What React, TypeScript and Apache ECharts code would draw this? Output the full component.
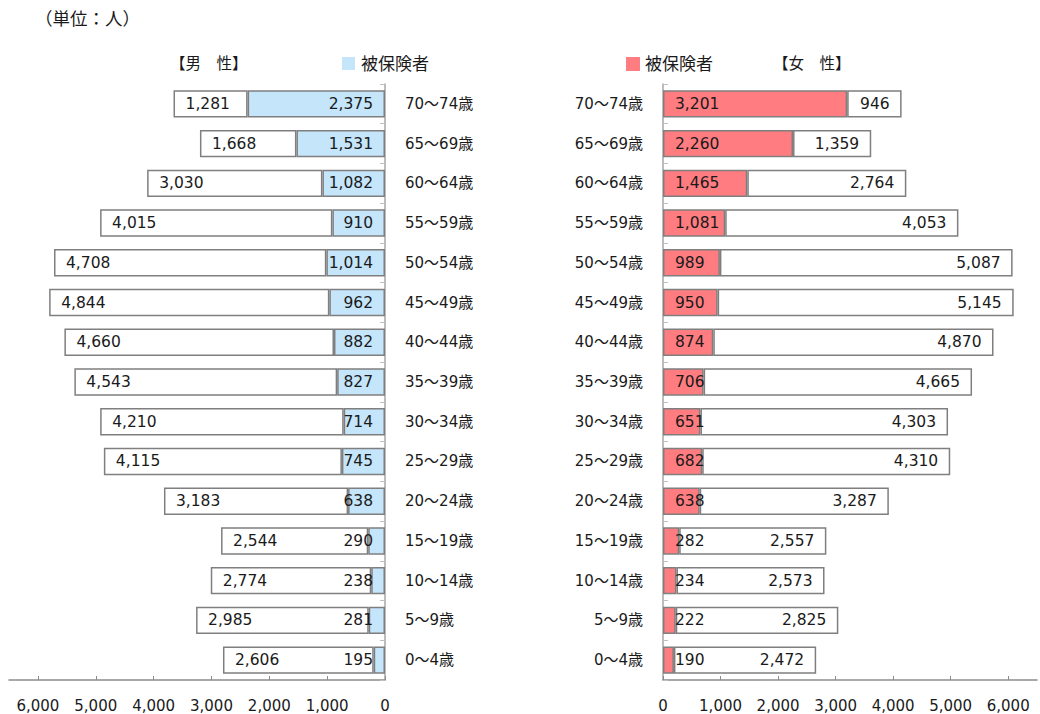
import React, { useEffect, useRef } from "react";
import * as echarts from "echarts";

const categories = ["0～4歳", "5～9歳", "10～14歳", "15～19歳", "20～24歳", "25～29歳", "30～34歳", "35～39歳", "40～44歳", "45～49歳", "50～54歳", "55～59歳", "60～64歳", "65～69歳", "70～74歳"];
const maleInsured = [195, 281, 238, 290, 638, 745, 714, 827, 882, 962, 1014, 910, 1082, 1531, 2375];
const maleOther = [2606, 2985, 2774, 2544, 3183, 4115, 4210, 4543, 4660, 4844, 4708, 4015, 3030, 1668, 1281];
const femaleInsured = [190, 222, 234, 282, 638, 682, 651, 706, 874, 950, 989, 1081, 1465, 2260, 3201];
const femaleOther = [2472, 2825, 2573, 2557, 3287, 4310, 4303, 4665, 4870, 5145, 5087, 4053, 2764, 1359, 946];
const tickValues = [0, 1000, 2000, 3000, 4000, 5000, 6000];

const FONT = "'DejaVu Sans', 'Noto Sans CJK JP', sans-serif";
const TEXT = "#1a1a1a";
const BORDER = "#7f7f7f";

const fmt = (v: number) => v.toLocaleString("en-US");

export default function App() {
  const ref = useRef<HTMLDivElement>(null);
  useEffect(() => {
    if (!ref.current) return;
    const chart = echarts.init(ref.current, null, { renderer: "svg" });
    const valueAxis = (gridIndex: number, inverse: boolean) => ({
      type: "value",
      gridIndex,
      inverse,
      min: 0,
      max: 6500,
      interval: 1000,
      splitLine: { show: false },
      axisLine: { show: true, lineStyle: { color: "#8c8c8c", width: 1.5 } },
      axisTick: { show: true, inside: true, length: 4, lineStyle: { color: "#8c8c8c" }, customValues: tickValues },
      axisLabel: {
        customValues: tickValues,
        formatter: (v: number) => fmt(v),
        color: TEXT,
        fontSize: 15,
        fontFamily: FONT,
        margin: 18,
      },
    });
    const catAxis = (gridIndex: number, position: string) => ({
      type: "category",
      gridIndex,
      position,
      data: categories,
      axisLine: { show: true, lineStyle: { color: "#a6a6a6", width: 1.5 } },
      axisTick: { show: true, inside: true, length: 5, lineStyle: { color: "#bfbfbf" } },
      axisLabel: { color: TEXT, fontSize: 15, fontFamily: FONT, margin: 20 },
    });
    const label = (position: string) => ({
      show: true,
      position,
      distance: 12,
      color: TEXT,
      fontSize: 15.5,
      fontFamily: FONT,
      formatter: (p: any) => fmt(p.value),
    });
    const bar = (name: string, data: number[], idx: number, stack: string, color: string, pos: string) => ({
      type: "bar",
      name,
      data,
      xAxisIndex: idx,
      yAxisIndex: idx,
      stack,
      barCategoryGap: "31%",
      itemStyle: { color, borderColor: BORDER, borderWidth: 1.5 },
      label: label(pos),
      emphasis: { disabled: true },
    });
    chart.setOption({
      animation: false,
      textStyle: { fontFamily: FONT },
      grid: [
        { left: 9, right: 655, top: 84, bottom: 34 },
        { left: 663, right: 3, top: 84, bottom: 34 },
      ],
      xAxis: [valueAxis(0, true), valueAxis(1, false)],
      yAxis: [catAxis(0, "right"), catAxis(1, "left")],
      series: [
        bar("被保険者", maleInsured, 0, "m", "#c5e5fb", "insideRight"),
        bar("その他", maleOther, 0, "m", "#ffffff", "insideLeft"),
        bar("被保険者", femaleInsured, 1, "f", "#ff7c80", "insideLeft"),
        bar("その他", femaleOther, 1, "f", "#ffffff", "insideRight"),
      ],
      graphic: [
        { type: "text", left: 35, top: 10, style: { text: "（単位：人）", fontSize: 17.5, fontFamily: FONT, fill: TEXT } },
        { type: "text", left: 170, top: 56, style: { text: "【男　性】", fontSize: 15.5, fontFamily: FONT, fill: TEXT } },
        { type: "rect", shape: { x: 342, y: 57, width: 13, height: 13 }, style: { fill: "#c5e5fb" } },
        { type: "text", left: 361, top: 55, style: { text: "被保険者", fontSize: 17, fontFamily: FONT, fill: TEXT } },
        { type: "rect", shape: { x: 626, y: 57, width: 14, height: 14 }, style: { fill: "#ff7c80" } },
        { type: "text", left: 645, top: 55, style: { text: "被保険者", fontSize: 17, fontFamily: FONT, fill: TEXT } },
        { type: "text", left: 773, top: 56, style: { text: "【女　性】", fontSize: 15.5, fontFamily: FONT, fill: TEXT } },
      ],
    });
    return () => chart.dispose();
  }, []);
  return <div ref={ref} style={{ width: 1040, height: 714, position: "absolute", left: 0, top: 0 }} />;
}
